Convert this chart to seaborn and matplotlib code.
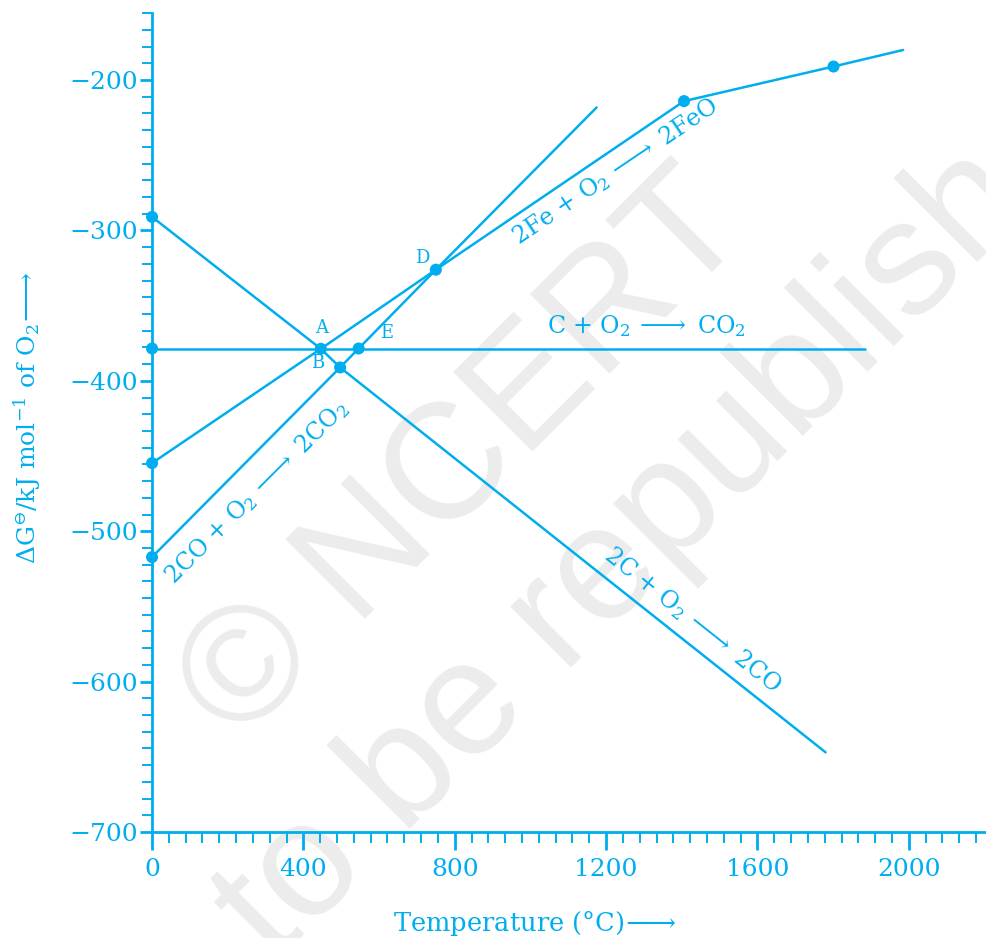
import numpy as np
import pandas as pd
import matplotlib
matplotlib.use("Agg")
import matplotlib.pyplot as plt
from matplotlib.ticker import FixedLocator
import seaborn as sns

# ---------------- data ----------------
co2_x = [0, 446, 546, 1885]
co2_y = [-378.5, -378.5, -378.5, -378.5]

c_co_x = [0, 446, 497, 1780]
c_co_y = [-291, -378.7, -391.1, -647]

co_co2_x = [0, 497, 546, 750, 1175]
co_co2_y = [-517.2, -391.1, -378.5, -326.1, -218.2]

fe_x = [0, 446, 750, 1406, 1801, 1985]
fe_y = [-454.7, -378.7, -326.1, -214, -191, -180]

dot_x = [0, 0, 0, 0, 446, 497, 546, 750, 1406, 1801]
dot_y = [-291, -378.5, -454.7, -517.2, -378.7, -391.1, -378.5, -326.1, -214, -191]

point_labels = ["A", "B", "E", "D"]
point_lab_x = [448, 439, 619, 713]
point_lab_y = [-365, -388, -368.5, -318.5]

x_ticks = [0, 400, 800, 1200, 1600, 2000]
y_ticks = [-700, -600, -500, -400, -300, -200]

COL = "#00AEEF"
ARROW = r"$-\!\!\!\longrightarrow$"

sns.set_theme(style="white")
plt.rcParams["font.family"] = ["DejaVu Serif"]
plt.rcParams["mathtext.fontset"] = "dejavuserif"

fig = plt.figure(figsize=(9.86, 9.38), dpi=100)
ax = fig.add_axes([0.1542, 0.113, 0.8458, 0.873])

# watermark
ax.text(0.473, 0.511, "\u00a9 NCERT", transform=fig.transFigure, fontsize=118,
        family="Liberation Sans", color="#ECECEC", rotation=45, ha="center",
        va="center", zorder=0, clip_on=False)
ax.text(0.698, 0.477, "to be republished", transform=fig.transFigure, fontsize=118,
        family="Liberation Sans", color="#ECECEC", rotation=45, ha="center",
        va="center", zorder=0, clip_on=False)

def line(xs, ys):
    df = pd.DataFrame({"x": xs, "y": ys})
    sns.lineplot(data=df, x="x", y="y", sort=False, estimator=None, color=COL,
                 lw=1.8, ax=ax, zorder=3)

line(co2_x, co2_y)
line(c_co_x, c_co_y)
line(co_co2_x, co_co2_y)
line(fe_x, fe_y)

sns.scatterplot(x=dot_x, y=dot_y, color=COL, s=75, edgecolor="none", ax=ax,
                zorder=5, clip_on=False)

for t, x, y in zip(point_labels, point_lab_x, point_lab_y):
    ax.text(x, y, t, color=COL, fontsize=13, ha="center", va="center")

ax.text(1045, -363.5, r"C + O$_2$ " + ARROW + r" CO$_2$", color=COL, fontsize=17,
        ha="left", va="center")
ax.text(1428, -559, r"2C + O$_2$ " + ARROW + r" 2CO", color=COL, fontsize=17,
        ha="center", va="center", rotation=-38.5, rotation_mode="anchor")
ax.text(275, -474, r"2CO + O$_2$ " + ARROW + r" 2CO$_2$", color=COL, fontsize=17,
        ha="center", va="center", rotation=45, rotation_mode="anchor")
ax.text(1226, -261, r"2Fe + O$_2$ " + ARROW + r" 2FeO", color=COL, fontsize=17,
        ha="center", va="center", rotation=34, rotation_mode="anchor")

ax.set_xlim(0, 2204)
ax.set_ylim(-700, -155.5)
ax.set_xticks(x_ticks)
ax.set_yticks(y_ticks)
ax.xaxis.set_minor_locator(FixedLocator(np.arange(0, 2204, 400 / 9)))
ax.yaxis.set_minor_locator(FixedLocator(np.arange(-700, -155, 100 / 9)))

for s in ["top", "right"]:
    ax.spines[s].set_visible(False)
for s in ["left", "bottom"]:
    ax.spines[s].set_color(COL)
    ax.spines[s].set_linewidth(2.0)
    ax.spines[s].set_zorder(4)

ax.tick_params(axis="x", which="major", direction="out", length=13, width=2,
               color=COL, labelcolor=COL, labelsize=18, pad=6, bottom=True)
ax.tick_params(axis="x", which="minor", direction="out", length=8, width=1.4,
               color=COL, bottom=True)
ax.tick_params(axis="y", which="major", direction="out", length=9, width=2,
               color=COL, labelcolor=COL, labelsize=18, pad=1, left=True)
ax.tick_params(axis="y", which="minor", direction="out", length=7, width=1.4,
               color=COL, left=True)

ax.set_xlabel(r"Temperature (°C)" + ARROW, color=COL, fontsize=18.5)
ax.xaxis.set_label_coords(0.459, -0.093)
ax.set_ylabel(r"$\Delta$G$^{\ominus}$/kJ mol$^{-1}$ of O$_2$" + ARROW,
              color=COL, fontsize=18)
ax.yaxis.set_label_coords(-0.131, 0.505)
ax.grid(False)

fig.savefig("out.png", dpi=100)
